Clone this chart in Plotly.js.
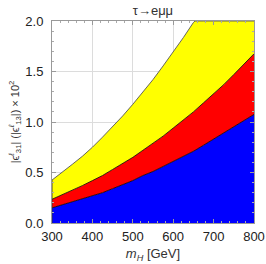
<!DOCTYPE html>
<html><head><meta charset="utf-8">
<script src="https://cdn.plot.ly/plotly-3.0.1.min.js"></script>
<style>html,body{margin:0;padding:0;background:#fff}#c{width:266px;height:264px}</style>
</head><body><div id="c"></div>
<script>
var mH = [300,325,350,375,400,425,450,475,500,525,550,575,600,625,650,675,700,725,750,775,800];
var blueTop = [0.15,0.18,0.21,0.24,0.27,0.30,0.34,0.38,0.42,0.47,0.51,0.56,0.61,0.66,0.71,0.77,0.83,0.89,0.95,1.01,1.075];
var redTop = [0.235,0.28,0.32,0.37,0.42,0.47,0.53,0.59,0.65,0.72,0.79,0.86,0.94,1.02,1.10,1.19,1.28,1.37,1.47,1.57,1.675];
var mHY = [300,325,350,375,400,425,450,475,500,525,550,575,600,625,650,654,675,700,725,750,775,800];
var yellowTop = [0.425,0.50,0.58,0.66,0.75,0.85,0.95,1.06,1.175,1.295,1.42,1.555,1.69,1.835,1.985,2.0,2.0,2.0,2.0,2.0,2.0,2.0];
var titleText = "τ→eμμ";
var xTitle = "<i>m</i><sub><i>H</i></sub> [GeV]";
var yTitle = "|ϵ<sup><i>ℓ</i></sup><sub>31</sub>| (|ϵ<sup><i>ℓ</i></sup><sub>13</sub>|) × 10<sup>2</sup>";
var xTicks = [300,400,500,600,700,800];
var yTicks = [0,0.5,1,1.5,2];
var yTickText = ["0.0","0.5","1.0","1.5","2.0"];

var FONT = 'Liberation Sans, Arial, sans-serif';
var traces = [
  {x: mH, y: blueTop, type:'scatter', mode:'lines', fill:'tozeroy', fillcolor:'#0000ff',
   line:{color:'#000', width:0.8}, hoverinfo:'skip'},
  {x: mH, y: redTop, type:'scatter', mode:'lines', fill:'tonexty', fillcolor:'#ff0000',
   line:{color:'#000', width:0.8}, hoverinfo:'skip'},
  {x: mHY, y: yellowTop, type:'scatter', mode:'lines', fill:'tonexty', fillcolor:'#ffff00',
   line:{color:'#555', width:0.9}, hoverinfo:'skip'},
  {x: [mH[0], mH[0]], y: [0, yellowTop[0]], type:'scatter', mode:'lines',
   line:{color:'#333', width:0.9}, hoverinfo:'skip'}
];

var axisCommon = {
  showline:true, linecolor:'#999', linewidth:1, mirror:'allticks',
  ticks:'inside', ticklen:4, tickcolor:'#999', tickwidth:1,
  showgrid:true, gridcolor:'#dcdcdc', gridwidth:1, zeroline:false,
  tickfont:{family:FONT, size:13, color:'#222'}
};

var layout = {
  width:266, height:264,
  margin:{l:52, r:12, t:21, b:41},
  paper_bgcolor:'#fff', plot_bgcolor:'#fff',
  showlegend:false,
  title:{text:titleText, x:0.575, xanchor:'center', yref:'container', y:0.978, yanchor:'top',
         font:{family:FONT, size:13, color:'#333'}},
  xaxis: Object.assign({}, axisCommon, {
    range:[300,800], tickvals:xTicks, ticktext:xTicks.map(String),
    minor:{dtick:20, ticks:'inside', ticklen:2, tickcolor:'#aaa', showgrid:false},
    ticklabelstandoff:1,
    title:{text:xTitle, standoff:6, font:{family:FONT, size:13, color:'#333'}}
  }),
  yaxis: Object.assign({}, axisCommon, {
    range:[0,2], tickvals:yTicks, ticktext:yTickText,
    minor:{dtick:0.1, ticks:'inside', ticklen:2, tickcolor:'#aaa', showgrid:false},
    ticklabelstandoff:5,
    title:{text:yTitle, standoff:3, font:{family:FONT, size:11, color:'#333'}}
  })
};

Plotly.newPlot('c', traces, layout, {staticPlot:true, displayModeBar:false});
</script>
</body></html>
